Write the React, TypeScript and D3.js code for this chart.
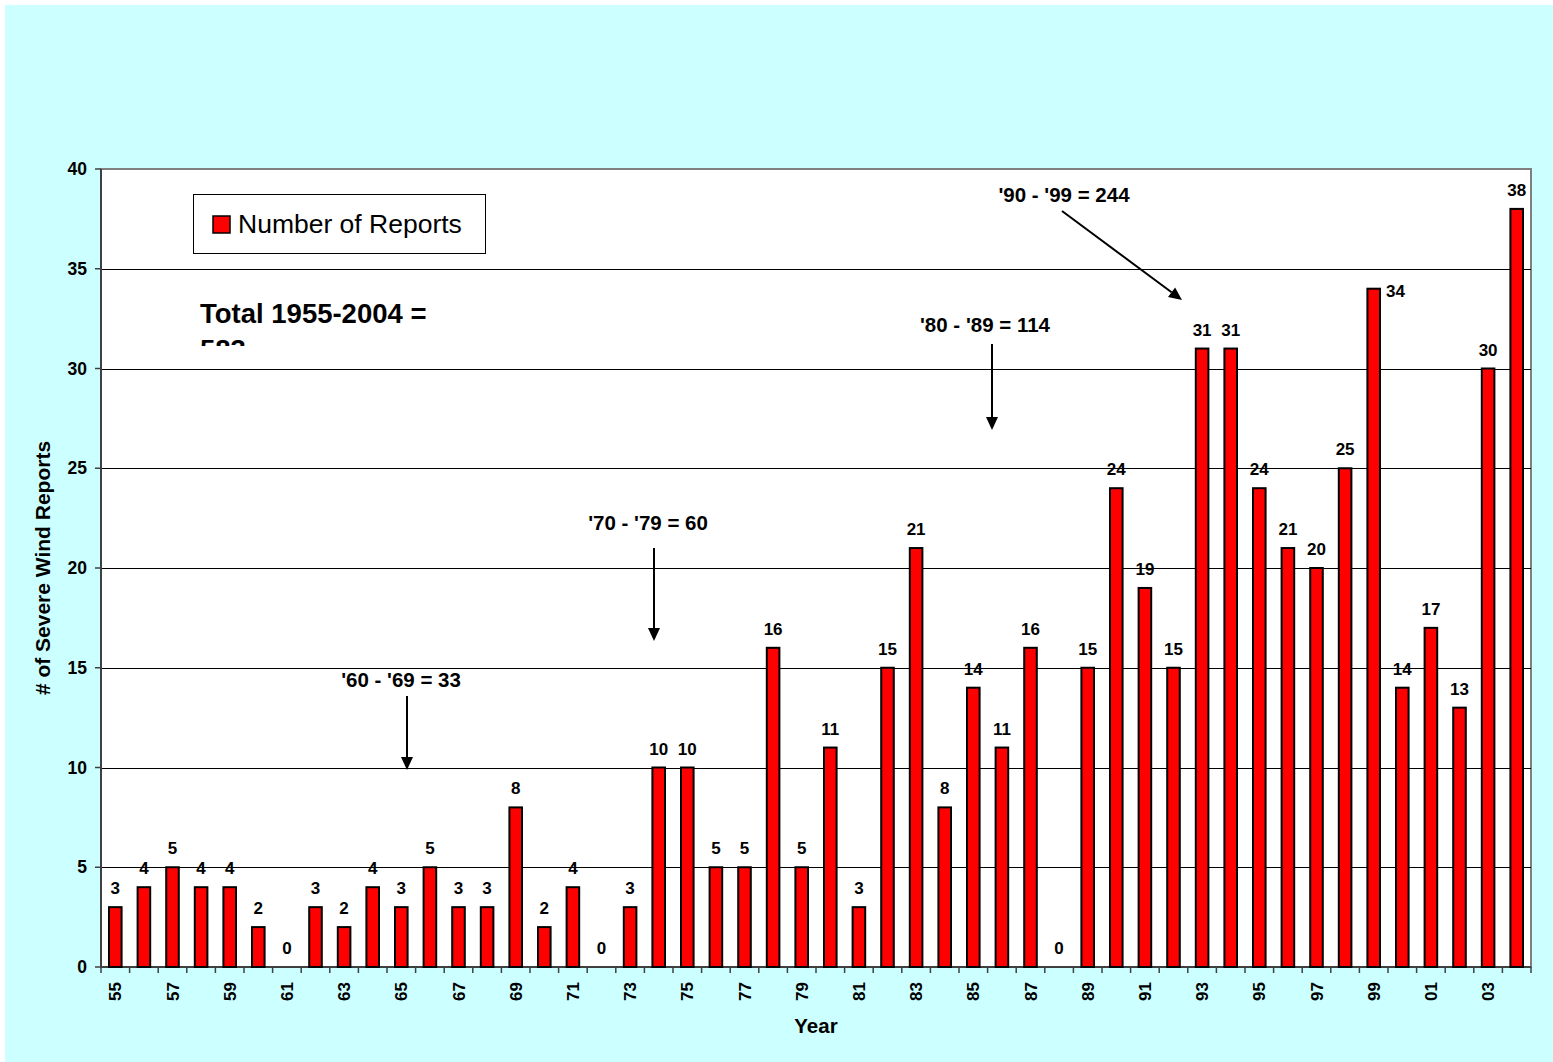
import React from "react";
import * as d3 from "d3";

const years: string[] = [
  "55","56","57","58","59","60","61","62","63","64",
  "65","66","67","68","69","70","71","72","73","74",
  "75","76","77","78","79","80","81","82","83","84",
  "85","86","87","88","89","90","91","92","93","94",
  "95","96","97","98","99","00","01","02","03","04",
];
const reports: number[] = [
  3,4,5,4,4,2,0,3,2,4,
  3,5,3,3,8,2,4,0,3,10,
  10,5,5,16,5,11,3,15,21,8,
  14,11,16,0,15,24,19,15,31,31,
  24,21,20,25,34,14,17,13,30,38,
];
const yTicks: number[] = [0, 5, 10, 15, 20, 25, 30, 35, 40];
const sideLabelYears: string[] = ["99"];
const decadeNotes: string[] = ["'60 - '69 = 33", "'70 - '79 = 60", "'80 - '89 = 114", "'90 - '99 = 244"];
const totalText = ["Total 1955-2004 =", "583"];
const legendLabel = "Number of Reports";
const xTitle = "Year";
const yTitle = "# of Severe Wind Reports";

// annotation layout (pixel positions)
const noteLayout = [
  { tx: 401, ty: 687, x1: 407, y1: 696, x2: 407, y2: 770 },
  { tx: 648, ty: 530, x1: 654, y1: 548, x2: 654, y2: 641 },
  { tx: 985, ty: 332, x1: 992, y1: 344, x2: 992, y2: 430 },
  { tx: 1064, ty: 202, x1: 1062, y1: 211, x2: 1182, y2: 300 },
];

const W = 1553;
const H = 1062;
const L = 101, R = 1531, T = 169, B = 967;
const FONT = "Arial, 'Liberation Sans', Helvetica, sans-serif";

function Arrow({ x1, y1, x2, y2 }: { x1: number; y1: number; x2: number; y2: number }) {
  const ang = Math.atan2(y2 - y1, x2 - x1);
  const len = 13, half = 6;
  const bx = x2 - len * Math.cos(ang);
  const by = y2 - len * Math.sin(ang);
  const px = -Math.sin(ang), py = Math.cos(ang);
  const pts = [
    [x2, y2],
    [bx + half * px, by + half * py],
    [bx - half * px, by - half * py],
  ];
  return (
    <g>
      <line x1={x1} y1={y1} x2={bx} y2={by} stroke="#000" strokeWidth={2} />
      <polygon points={pts.map((p) => p.join(",")).join(" ")} fill="#000" />
    </g>
  );
}

export default function App() {
  const xStep = d3.scaleBand<string>().domain(years).range([L, R]).padding(0);
  const step = xStep.step();
  const x = d3.scaleBand<string>().domain(years).range([L, R]).paddingInner(0.56).paddingOuter(0.28);
  const y = d3.scaleLinear().domain([0, 40]).range([B, T]);
  const bw = x.bandwidth();

  return (
    <svg
      width={W}
      height={H}
      style={{ position: "absolute", left: 0, top: 0, display: "block" }}
      fontFamily={FONT}
    >
      <rect x={0} y={0} width={W} height={H} fill="#fff" />
      <rect x={5} y={5} width={W - 5} height={H - 5} fill="#CCFFFF" />
      <defs>
        <clipPath id="totclip">
          <rect x={L} y={T} width={R - L} height={346 - T} />
        </clipPath>
      </defs>
      {/* plot area */}
      <rect x={L} y={T} width={R - L} height={B - T} fill="#fff" stroke="#808080" strokeWidth={2} />
      {/* gridlines */}
      {yTicks.filter((t) => t > 0 && t < 40).map((t) => (
        <line key={t} x1={L} x2={R} y1={Math.round(y(t)) + 0.5} y2={Math.round(y(t)) + 0.5} stroke="#000" strokeWidth={1} />
      ))}
      {/* y axis */}
      <line x1={L} x2={L} y1={T} y2={B} stroke="#404040" strokeWidth={2} />
      {yTicks.map((t) => (
        <g key={t}>
          <line x1={L - 6} x2={L} y1={y(t)} y2={y(t)} stroke="#404040" strokeWidth={1.5} />
          <text x={87} y={y(t)} dy="0.35em" textAnchor="end" fontWeight="bold" fontSize={17.5}>
            {t}
          </text>
        </g>
      ))}
      {/* x axis */}
      <line x1={L} x2={R} y1={B} y2={B} stroke="#404040" strokeWidth={2} />
      {years.map((yr) => (
        <line key={"t" + yr} x1={xStep(yr)!} x2={xStep(yr)!} y1={B} y2={B + 6} stroke="#404040" strokeWidth={1.5} />
      ))}
      <line x1={R} x2={R} y1={B} y2={B + 6} stroke="#404040" strokeWidth={1.5} />
      {years.map((yr, i) =>
        i % 2 === 0 ? (
          <text
            key={"l" + yr}
            transform={`translate(${xStep(yr)! + step / 2 + 6},${982}) rotate(-90)`}
            textAnchor="end"
            fontWeight="bold"
            fontSize={17}
          >
            {yr}
          </text>
        ) : null
      )}
      {/* bars */}
      {years.map((yr, i) => {
        const v = reports[i];
        const top = y(v);
        return (
          <g key={"b" + yr}>
            {v > 0 && (
              <rect x={x(yr)!} y={top} width={bw} height={B - top} fill="#FF0000" stroke="#000" strokeWidth={2} />
            )}
            {sideLabelYears.includes(yr) ? (
              <text x={x(yr)! + bw + 6} y={top + 8} fontWeight="bold" fontSize={17}>
                {v}
              </text>
            ) : (
              <text x={x(yr)! + bw / 2} y={top - 13} textAnchor="middle" fontWeight="bold" fontSize={17}>
                {v}
              </text>
            )}
          </g>
        );
      })}
      {/* legend */}
      <rect x={193.5} y={194.5} width={292} height={59} fill="#fff" stroke="#000" strokeWidth={1} />
      <rect x={213} y={216} width={17} height={17} fill="#FF0000" stroke="#000" strokeWidth={1.5} />
      <text x={238} y={233} fontSize={26.5}>
        {legendLabel}
      </text>
      {/* total text (clipped second line) */}
      <g clipPath="url(#totclip)">
        <text x={200} y={323} fontWeight="bold" fontSize={27.5}>
          {totalText[0]}
        </text>
        <text x={200} y={359} fontWeight="bold" fontSize={27.5}>
          {totalText[1]}
        </text>
      </g>
      {/* decade annotations */}
      {decadeNotes.map((n, i) => {
        const p = noteLayout[i];
        return (
          <g key={n}>
            <text x={p.tx} y={p.ty} textAnchor="middle" fontWeight="bold" fontSize={20.5}>
              {n}
            </text>
            <Arrow x1={p.x1} y1={p.y1} x2={p.x2} y2={p.y2} />
          </g>
        );
      })}
      {/* axis titles */}
      <text x={816} y={1033} textAnchor="middle" fontWeight="bold" fontSize={20.5}>
        {xTitle}
      </text>
      <text transform={`translate(50,568) rotate(-90)`} textAnchor="middle" fontWeight="bold" fontSize={21}>
        {yTitle}
      </text>
    </svg>
  );
}
